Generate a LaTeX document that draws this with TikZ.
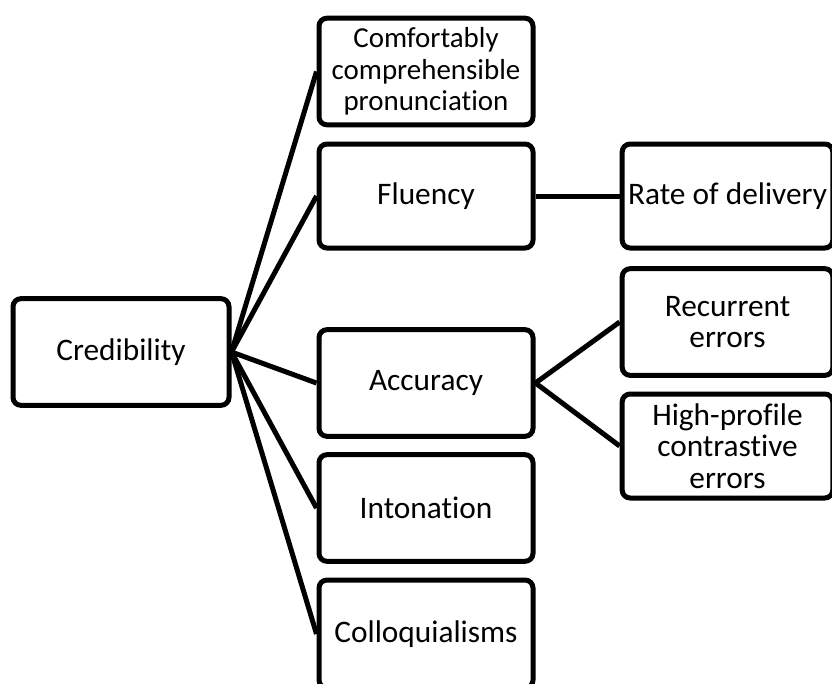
\documentclass[tikz,border=0pt]{standalone}
\usepackage{fontspec}
\setmainfont{Carlito}[Ligatures=NoCommon]
\tikzset{
    card/.style={draw, line width=3.75pt, rounded corners=6pt, align=center,
        inner sep=0pt, minimum width=#1, minimum height=80pt,
        font=\fontsize{23.5}{23.6}\selectfont},
    link/.style={line width=3.75pt}
}
\begin{document}
\begin{tikzpicture}[x=0.75pt,y=-0.75pt]
	\useasboundingbox (0,0) rectangle (832,683);

	\node[card=162pt] (cred) at (121,352) {Credibility};

	\node[card=160.5pt,font=\fontsize{21.7}{23.6}\selectfont] (comf) at (426,71.5) {Comfortably\\comprehensible\\pronunciation};
	\node[card=160.5pt,minimum height=78pt] (flu) at (426,196) {Fluency};
	\node[card=160.5pt] (acc) at (426,383) {Accuracy};
	\node[card=160.5pt] (into) at (426,508) {Intonation};
	\node[card=160.5pt,minimum height=81pt] (coll) at (426,634) {Colloquialisms};

	\node[card=158pt,minimum height=78pt] (rate) at (727.5,196) {Rate of delivery};
	\node[card=158pt] (rec) at (727.5,322) {Recurrent\\errors};
	\node[card=158pt,minimum height=78pt] (high) at (727.5,446) {High-profile\\contrastive\\errors};

	\draw[link] (cred.east) -- (comf.west);
	\draw[link] (cred.east) -- (flu.west);
	\draw[link] (cred.east) -- (acc.west);
	\draw[link] (cred.east) -- (into.west);
	\draw[link] (cred.east) -- (coll.west);

	\draw[link] (flu.east) -- (rate.west);
	\draw[link] (acc.east) -- (rec.west);
	\draw[link] (acc.east) -- (high.west);
\end{tikzpicture}
\end{document}
